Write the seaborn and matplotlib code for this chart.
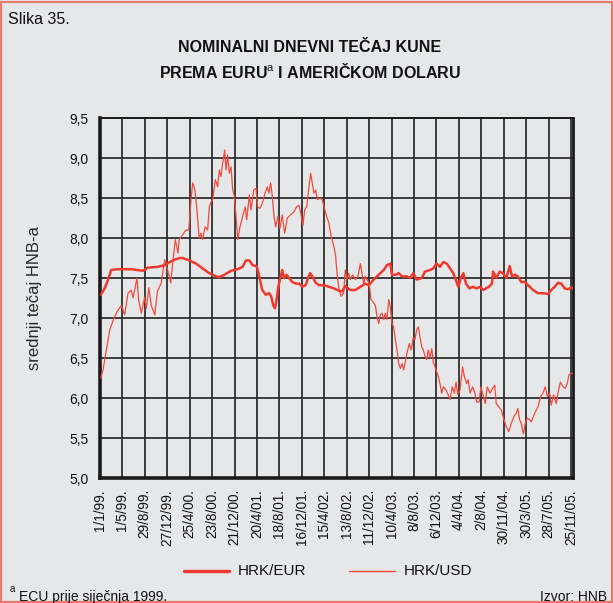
import numpy as np
import pandas as pd
import matplotlib
matplotlib.use("Agg")
import matplotlib.pyplot as plt
import seaborn as sns
from matplotlib.patches import Rectangle
from matplotlib.lines import Line2D

# ---------------- data ----------------
start_date = "1999-01-01"
tick_labels = ["1/1/99.", "1/5/99.", "29/8/99.", "27/12/99.", "25/4/00.", "23/8/00.",
               "21/12/00.", "20/4/01.", "18/8/01.", "16/12/01.", "15/4/02.", "13/8/02.",
               "11/12/02.", "10/4/03.", "8/8/03.", "6/12/03.", "4/4/04.", "2/8/04.",
               "30/11/04.", "30/3/05.", "28/7/05.", "25/11/05."]
y_ticks = [5.0, 5.5, 6.0, 6.5, 7.0, 7.5, 8.0, 8.5, 9.0, 9.5]

# days since 1 Jan 1999
eur_days = [4, 25, 43, 60, 96, 167, 230, 257, 310, 346, 373, 400, 426, 442, 478, 514, 549, 585,
            621, 638, 665, 701, 737, 763, 781, 799, 817, 835, 842, 856, 868, 887, 904, 916, 927,
            936, 945, 954, 967, 975, 984, 999, 1011, 1029, 1047, 1065, 1082, 1100, 1113, 1124,
            1136, 1154, 1172, 1198, 1225, 1252, 1268, 1295, 1312, 1339, 1366, 1393, 1419, 1438,
            1464, 1491, 1518, 1535, 1553, 1562, 1580, 1598, 1616, 1642, 1659, 1676, 1694, 1721,
            1739, 1766, 1783, 1801, 1819, 1837, 1855, 1873, 1890, 1908, 1917, 1930, 1944, 1958,
            1976, 1994, 2015, 2033, 2051, 2072, 2081, 2097, 2103, 2120, 2138, 2156, 2174, 2192,
            2204, 2219, 2236, 2254, 2272, 2290, 2317, 2343, 2370, 2397, 2414, 2433, 2450, 2468,
            2486, 2504, 2522, 2528]
eur_vals = [7.29, 7.37, 7.48, 7.60, 7.61, 7.61, 7.59, 7.63, 7.64, 7.66, 7.70, 7.73, 7.75, 7.75,
            7.72, 7.68, 7.62, 7.56, 7.52, 7.51, 7.54, 7.59, 7.61, 7.64, 7.72, 7.72, 7.66, 7.65,
            7.62, 7.48, 7.35, 7.29, 7.31, 7.27, 7.16, 7.12, 7.23, 7.39, 7.52, 7.60, 7.50, 7.54,
            7.50, 7.45, 7.43, 7.43, 7.39, 7.41, 7.50, 7.56, 7.52, 7.44, 7.41, 7.41, 7.39, 7.37,
            7.35, 7.33, 7.40, 7.35, 7.35, 7.39, 7.43, 7.41, 7.48, 7.54, 7.60, 7.66, 7.68, 7.54,
            7.54, 7.56, 7.52, 7.52, 7.50, 7.56, 7.48, 7.50, 7.58, 7.60, 7.62, 7.68, 7.64, 7.70,
            7.68, 7.62, 7.56, 7.45, 7.39, 7.50, 7.56, 7.43, 7.37, 7.39, 7.37, 7.39, 7.35, 7.38,
            7.39, 7.43, 7.58, 7.50, 7.58, 7.56, 7.50, 7.65, 7.52, 7.54, 7.52, 7.45, 7.45, 7.41,
            7.35, 7.31, 7.31, 7.30, 7.35, 7.39, 7.44, 7.43, 7.37, 7.36, 7.38, 7.37]

usd_days = [4, 16, 34, 52, 70, 87, 114, 132, 150, 167, 177, 198, 207, 221, 239, 248, 261, 274,
            293, 307, 328, 346, 364, 378, 391, 403, 417, 424, 442, 460, 475, 487, 496, 508, 517,
            531, 540, 549, 563, 576, 585, 594, 603, 617, 630, 638, 647, 656, 667, 674, 683, 692,
            701, 710, 719, 728, 737, 749, 763, 777, 785, 799, 808, 822, 835, 842, 856, 868, 883,
            895, 904, 913, 922, 931, 940, 952, 963, 975, 988, 1002, 1020, 1038, 1052, 1065, 1074,
            1086, 1095, 1106, 1118, 1127, 1136, 1145, 1154, 1163, 1177, 1189, 1198, 1213, 1225,
            1237, 1252, 1261, 1268, 1277, 1289, 1304, 1312, 1321, 1331, 1339, 1352, 1366, 1380,
            1393, 1402, 1411, 1419, 1434, 1441, 1450, 1461, 1473, 1482, 1491, 1500, 1509, 1518,
            1526, 1535, 1545, 1553, 1562, 1571, 1580, 1589, 1598, 1607, 1616, 1625, 1633, 1642,
            1655, 1665, 1675, 1685, 1694, 1703, 1712, 1721, 1730, 1739, 1748, 1756, 1766, 1775,
            1783, 1798, 1810, 1819, 1828, 1837, 1851, 1863, 1873, 1885, 1896, 1905, 1914, 1926,
            1940, 1949, 1962, 1970, 1980, 1994, 2006, 2015, 2028, 2038, 2051, 2061, 2072, 2087,
            2095, 2112, 2120, 2133, 2147, 2161, 2174, 2187, 2200, 2215, 2227, 2236, 2245, 2254,
            2265, 2275, 2286, 2299, 2307, 2326, 2343, 2358, 2370, 2382, 2393, 2406, 2414, 2427,
            2441, 2450, 2463, 2477, 2489, 2500, 2509, 2522, 2528]
usd_vals = [6.25, 6.35, 6.60, 6.85, 6.97, 7.06, 7.16, 7.04, 7.31, 7.35, 7.25, 7.50, 7.22, 7.06,
            7.26, 7.12, 7.38, 7.16, 7.04, 7.33, 7.44, 7.73, 7.58, 7.44, 7.73, 7.98, 7.81, 7.98,
            8.04, 8.10, 8.10, 8.48, 8.69, 8.60, 8.39, 8.00, 8.06, 7.98, 8.14, 8.10, 8.39, 8.45,
            8.48, 8.73, 8.64, 8.85, 8.77, 8.93, 9.10, 8.85, 9.04, 8.81, 8.89, 8.60, 8.52, 8.27,
            7.98, 8.14, 8.27, 8.39, 8.23, 8.54, 8.35, 8.60, 8.62, 8.39, 8.37, 8.43, 8.56, 8.64,
            8.56, 8.69, 8.52, 8.27, 8.14, 8.27, 8.12, 8.29, 8.06, 8.25, 8.29, 8.33, 8.39, 8.41,
            8.31, 8.16, 8.35, 8.39, 8.64, 8.81, 8.68, 8.56, 8.60, 8.48, 8.50, 8.48, 8.39, 8.27,
            8.18, 8.02, 7.89, 7.77, 7.56, 7.39, 7.27, 7.31, 7.60, 7.48, 7.56, 7.48, 7.54, 7.48,
            7.52, 7.68, 7.56, 7.43, 7.52, 7.46, 7.43, 7.23, 7.20, 7.16, 7.02, 6.93, 7.04, 7.06,
            6.98, 7.06, 6.98, 7.23, 7.14, 6.93, 6.89, 6.73, 6.60, 6.43, 6.37, 6.43, 6.35, 6.45,
            6.56, 6.68, 6.60, 6.75, 6.73, 6.85, 6.89, 6.77, 6.64, 6.60, 6.52, 6.48, 6.60, 6.50,
            6.62, 6.45, 6.35, 6.27, 6.18, 6.06, 6.14, 6.10, 6.04, 5.98, 6.14, 6.06, 6.20, 6.04,
            6.10, 6.39, 6.27, 6.18, 6.23, 6.06, 6.14, 6.06, 5.95, 5.95, 6.14, 6.02, 5.93, 6.14,
            6.06, 6.10, 6.16, 5.93, 5.89, 5.85, 5.73, 5.64, 5.58, 5.68, 5.77, 5.81, 5.87, 5.73,
            5.68, 5.55, 5.68, 5.75, 5.73, 5.70, 5.81, 5.89, 6.02, 6.06, 6.14, 6.02, 6.06, 5.91,
            6.04, 5.93, 6.06, 6.20, 6.14, 6.12, 6.18, 6.29, 6.31, 6.31]
x_end_day = 2528

# ---------------- styling ----------------
BG = "#e6e7e8"
RED = "#ee3a2e"
RED2 = "#f04a3e"
GRID = "#2e2e2e"

sns.set_style("white")
plt.rcParams["font.family"] = ["Liberation Sans", "DejaVu Sans"]
plt.rcParams["mathtext.fontset"] = "custom"
plt.rcParams["mathtext.rm"] = "Liberation Sans"

base = pd.Timestamp(start_date)
df_eur = pd.DataFrame({"date": base + pd.to_timedelta(eur_days, unit="D"), "value": eur_vals})
df_usd = pd.DataFrame({"date": base + pd.to_timedelta(usd_days, unit="D"), "value": usd_vals})
tick_dates = pd.to_datetime([t.rstrip(".") for t in tick_labels], format="%d/%m/%y")

fig = plt.figure(figsize=(6.13, 6.03), dpi=100, facecolor=BG)
ax = fig.add_axes([100 / 613, 1 - 478 / 603, 472.5 / 613, 360 / 603])
ax.set_facecolor(BG)

sns.lineplot(data=df_usd, x="date", y="value", color=RED2, linewidth=0.9, ax=ax,
             estimator=None, zorder=3)
sns.lineplot(data=df_eur, x="date", y="value", color=RED, linewidth=1.8, ax=ax,
             estimator=None, zorder=4)

ax.set_xlim(base, base + pd.Timedelta(days=x_end_day))
ax.set_ylim(5.0, 9.5)
ax.set_xticks(tick_dates)
ax.set_xticklabels(tick_labels, rotation=90, fontsize=9.8)
ax.set_yticks(y_ticks)
ax.set_yticklabels([f"{v:.1f}".replace(".", ",") for v in y_ticks], fontsize=10)
ax.set_xlabel("")
ax.set_ylabel("srednji tečaj HNB-a", fontsize=12, labelpad=20)

ax.grid(True, color=GRID, linewidth=1.3, zorder=1)
ax.set_axisbelow(True)
ax.tick_params(axis="both", direction="out", length=5, width=1.2, color=GRID, pad=3,
               labelcolor="#111111")
for side, lw in [("left", 2.6), ("bottom", 2.6), ("right", 2.0), ("top", 1.4)]:
    ax.spines[side].set_visible(True)
    ax.spines[side].set_color("#1a1a1a")
    ax.spines[side].set_linewidth(lw)

# titles and texts
fig.text(8 / 613, 1 - 20 / 603, "Slika 35.", fontsize=11.5, ha="left", va="center", color="#111111")
fig.text(310 / 613, 1 - 48 / 603, "NOMINALNI DNEVNI TEČAJ KUNE", fontsize=11.5, fontweight="bold",
         ha="center", va="center", color="#111111")
fig.text(310 / 613, 1 - 72 / 603, r"PREMA EURU$^{\mathrm{a}}$ I AMERIČKOM DOLARU",
         fontsize=11.5, fontweight="bold", ha="center", va="center", color="#111111")

# legend
fig.add_artist(Line2D([184 / 613, 229 / 613], [1 - 571 / 603] * 2, color=RED, linewidth=2.4))
fig.text(238 / 613, 1 - 571 / 603, "HRK/EUR", fontsize=11, ha="left", va="center", color="#111111")
fig.add_artist(Line2D([349 / 613, 395 / 613], [1 - 571 / 603] * 2, color=RED2, linewidth=1.0))
fig.text(404 / 613, 1 - 571 / 603, "HRK/USD", fontsize=11, ha="left", va="center", color="#111111")

# footnote
fig.text(10 / 613, 1 - 589 / 603, "a", fontsize=7, ha="left", va="center", color="#111111")
fig.text(19 / 613, 1 - 597 / 603, "ECU prije siječnja 1999.", fontsize=10, ha="left", va="center",
         color="#111111")
fig.text(607 / 613, 1 - 597 / 603, "Izvor: HNB", fontsize=10, ha="right", va="center", color="#111111")

# red border around the figure
fig.add_artist(Rectangle((0.002, 0.002), 0.996, 0.995, transform=fig.transFigure, fill=False,
                         edgecolor="#e77a72", linewidth=1.6))

fig.savefig("out.png", dpi=100, facecolor=BG)
